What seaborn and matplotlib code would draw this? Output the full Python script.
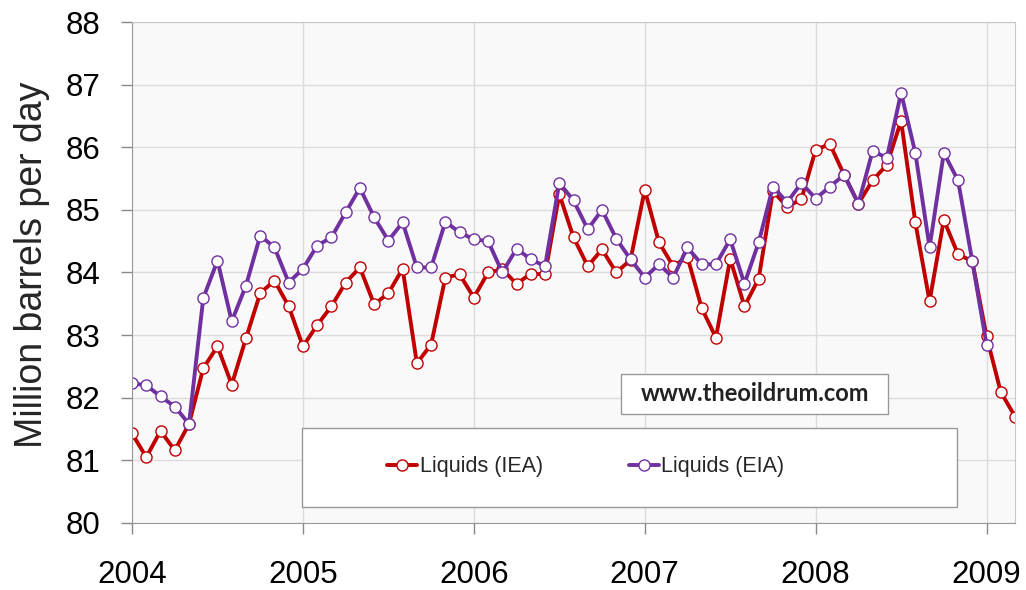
import numpy as np
import pandas as pd
import matplotlib.pyplot as plt
import matplotlib.patches as mpatches
import seaborn as sns

# monthly liquids production, million barrels per day (from Jan 2004)
iea = [81.43, 81.05, 81.47, 81.16, 81.58, 82.47, 82.82, 82.21, 82.95, 83.67, 83.87, 83.46,
       82.82, 83.16, 83.46, 83.84, 84.08, 83.49, 83.67, 84.06, 82.55, 82.85, 83.92, 83.97,
       83.60, 84.00, 84.05, 83.82, 83.98, 83.97, 85.25, 84.56, 84.10, 84.37, 84.00, 84.20,
       85.32, 84.48, 84.10, 84.25, 83.43, 82.96, 84.22, 83.46, 83.90, 85.30, 85.05, 85.17,
       85.96, 86.05, 85.56, 85.10, 85.47, 85.72, 86.42, 84.80, 83.54, 84.84, 84.29, 84.18,
       82.98, 82.09, 81.70]
eia = [82.23, 82.20, 82.02, 81.86, 81.58, 83.59, 84.19, 83.22, 83.79, 84.59, 84.40, 83.84,
       84.06, 84.43, 84.56, 84.96, 85.35, 84.88, 84.51, 84.80, 84.08, 84.08, 84.81, 84.64,
       84.53, 84.50, 84.00, 84.38, 84.21, 84.10, 85.43, 85.15, 84.69, 85.00, 84.54, 84.21,
       83.92, 84.13, 83.92, 84.40, 84.13, 84.13, 84.53, 83.82, 84.48, 85.37, 85.12, 85.43,
       85.18, 85.37, 85.56, 85.10, 85.94, 85.83, 86.87, 85.91, 84.40, 85.91, 85.47, 84.18,
       82.85]
start_year = 2004
years = [2004, 2005, 2006, 2007, 2008, 2009]
yticks = [80, 81, 82, 83, 84, 85, 86, 87, 88]

df_iea = pd.DataFrame({'year': start_year + np.arange(len(iea)) / 12, 'value': iea})
df_eia = pd.DataFrame({'year': start_year + np.arange(len(eia)) / 12, 'value': eia})

sns.set_style('whitegrid')
plt.rcParams['font.family'] = ['Liberation Sans', 'DejaVu Sans']

fig = plt.figure(figsize=(10.26, 5.9), dpi=100)
ax = fig.add_axes([0.1287, 0.1136, 0.8606, 0.8491])
ax.set_facecolor('#f9f9f9')

red = '#c00000'
purple = '#7030a0'
sns.lineplot(data=df_iea, x='year', y='value', ax=ax, color=red, lw=2.8,
             marker='o', ms=8, mfc='white', mec=red, mew=1.0, label='Liquids (IEA)')
sns.lineplot(data=df_eia, x='year', y='value', ax=ax, color=purple, lw=2.8,
             marker='o', ms=8, mfc='white', mec=purple, mew=1.0, label='Liquids (EIA)')

ax.set_xlim(start_year, start_year + (len(iea) - 1) / 12)
ax.set_ylim(80, 88)
ax.set_xticks(years)
ax.set_yticks(yticks)
ax.grid(True, color='#dcdcdc', lw=1)
ax.tick_params(axis='both', labelsize=22.5, colors='#888888', labelcolor='black',
               length=8, width=1, direction='out', left=True, bottom=True)
ax.tick_params(axis='x', pad=19)
ax.tick_params(axis='y', pad=15)
for side in ['left', 'bottom']:
    ax.spines[side].set_color('#999999')
for side in ['top', 'right']:
    ax.spines[side].set_color('#c8c8c8')
ax.set_xlabel('')
ax.set_ylabel('Million barrels per day', fontsize=27)
ax.yaxis.set_label_coords(-0.093, 0.515)

# legend box
ax.add_patch(mpatches.Rectangle((0.1925, 0.032), 0.7415, 0.158, transform=ax.transAxes,
                                facecolor='white', edgecolor='#999999', lw=1, zorder=5))
leg = ax.legend(loc='center left', bbox_to_anchor=(0.289, 0.112), frameon=False,
                ncol=2, fontsize=15.5, handlelength=1.4, handletextpad=0.1,
                columnspacing=4.0, borderpad=0, borderaxespad=0)
leg.set_zorder(6)

# watermark
ax.add_patch(mpatches.Rectangle((0.554, 0.2176), 0.302, 0.08, transform=ax.transAxes,
                                facecolor='white', edgecolor='#999999', lw=1, zorder=7))
ax.text(0.705, 0.2575, 'www.theoildrum.com', transform=ax.transAxes, ha='center', va='center',
        fontsize=17, fontweight='bold', family=['Lato', 'DejaVu Sans'], color='#222222', zorder=8)

fig.savefig('out.png', dpi=100)
